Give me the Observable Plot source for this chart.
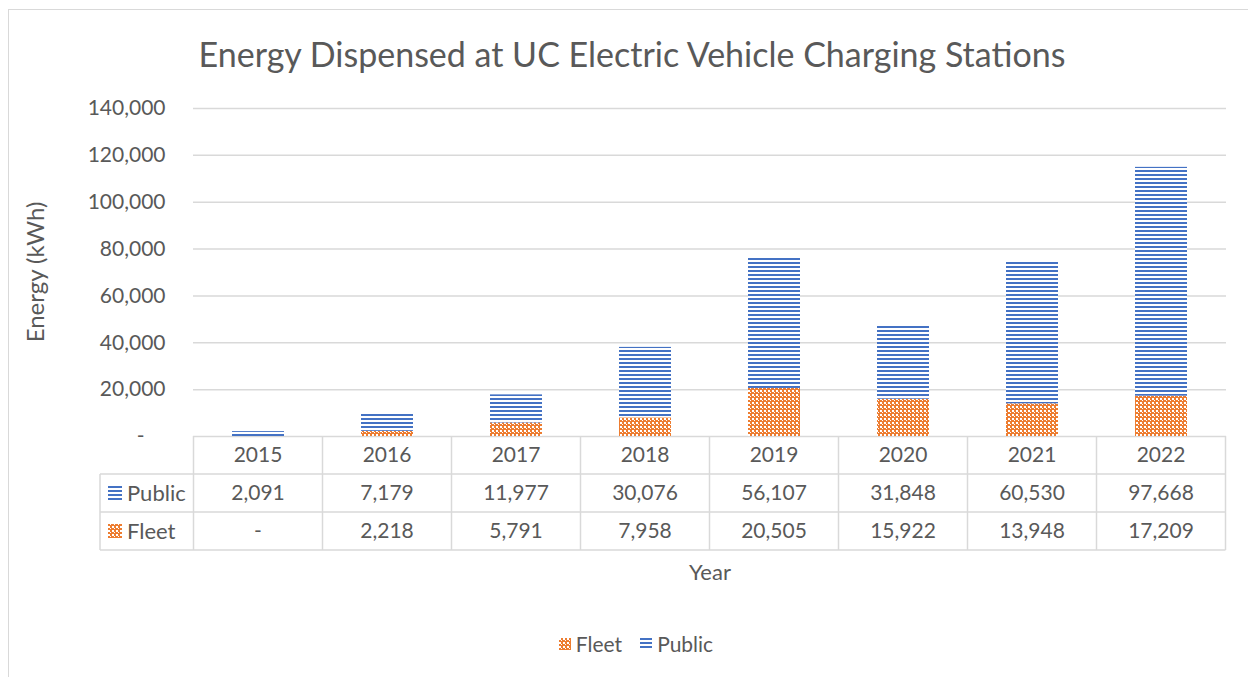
<!DOCTYPE html>
<html>
<head>
<meta charset="utf-8">
<script src="https://cdn.jsdelivr.net/npm/d3@7"></script>
<script src="https://cdn.jsdelivr.net/npm/@observablehq/plot@0.6"></script>
<style>
  html, body { margin: 0; padding: 0; background: #fff; }
  body { width: 1248px; height: 677px; position: relative; overflow: hidden; font-family: Lato, "Open Sans", sans-serif; color: #595959; }
  #frame { position: absolute; left: 8px; top: 9px; width: 1300px; height: 700px; border-left: 1.5px solid #d9d9d9; border-top: 1.5px solid #d9d9d9; }
  #title { position: absolute; left: 0; width: 1264px; top: 34px; line-height: 40px; text-align: center; font-size: 34px; }
  #chart { position: absolute; left: 0; top: 90px; }
  #xlabel { position: absolute; left: 0; width: 1420px; top: 558px; line-height: 28px; text-align: center; font-size: 22px; }
  #legend { position: absolute; left: 0; width: 1272px; top: 628px; line-height: 28px; text-align: center; font-size: 21px; }
  #legend span.item { display: inline-flex; align-items: center; margin: 0 9px; }
  #legend svg { margin-right: 5px; }
</style>
</head>
<body>
<div id="frame"></div>
<div id="title">Energy Dispensed at UC Electric Vehicle Charging Stations</div>
<div id="chart"></div>
<div id="xlabel">Year</div>
<div id="legend"></div>
<script>
const years = ["2015", "2016", "2017", "2018", "2019", "2020", "2021", "2022"];
const publicKWh = [2091, 7179, 11977, 30076, 56107, 31848, 60530, 97668];
const fleetKWh = [0, 2218, 5791, 7958, 20505, 15922, 13948, 17209];
const yTicks = [0, 20000, 40000, 60000, 80000, 100000, 120000, 140000];
const seriesNames = ["Fleet", "Public"];
const seriesColors = ["#ED7D31", "#4472C4"];

const rows = years.map((year, i) => ({year, fleet: fleetKWh[i], public: publicKWh[i]}));
const fmt = d3.format(",");
const fmtVal = v => v === 0 ? "-" : fmt(v);

const plot = Plot.plot({
  width: 1248,
  height: 466,
  marginTop: 18,
  marginBottom: 120,
  marginLeft: 193,
  marginRight: 22,
  style: {fontFamily: "Lato, 'Open Sans', sans-serif", fontSize: "21px", color: "#595959", background: "transparent", overflow: "visible"},
  x: {type: "band", domain: years, paddingInner: 0.6, paddingOuter: 0.3, axis: null},
  y: {domain: [0, 140000], axis: null},
  marks: [
    Plot.gridY(yTicks, {stroke: "#d9d9d9", strokeOpacity: 1, strokeWidth: 1.5}),
    Plot.axisY(yTicks, {tickSize: 0, tickPadding: 28, fill: "#595959", label: null,
      tickFormat: d => d === 0 ? "-\u2002\u2002" : fmt(d)}),
    Plot.barY(rows, {x: "year", y1: 0, y2: "fleet", fill: "url(#fleetPat)"}),
    Plot.barY(rows, {x: "year", y1: "fleet", y2: d => d.fleet + d.public, fill: "url(#publicPat)"})
  ]
});

const svg = d3.select(plot);
const defs = svg.insert("defs", ":first-child");
// Public: horizontal lines
const pp = defs.append("pattern").attr("id", "publicPat").attr("patternUnits", "userSpaceOnUse")
  .attr("width", 8).attr("height", 4);
pp.append("rect").attr("width", 8).attr("height", 4).attr("fill", "#fff");
pp.append("rect").attr("width", 8).attr("height", 2).attr("fill", seriesColors[1]);
// Fleet: small checker
const fp = defs.append("pattern").attr("id", "fleetPat").attr("patternUnits", "userSpaceOnUse")
  .attr("width", 4).attr("height", 4);
fp.append("rect").attr("width", 4).attr("height", 4).attr("fill", seriesColors[0]);
fp.append("rect").attr("width", 2).attr("height", 2).attr("fill", "#fff");
fp.append("rect").attr("x", 2).attr("y", 2).attr("width", 1).attr("height", 1).attr("fill", "#fff");

// Data table drawn from the x scale
const xs = plot.scale("x");
const ysc = plot.scale("y");
const step = xs.step;
const colLeft = y => xs.apply(y) + xs.bandwidth / 2 - step / 2;
const colCenter = y => xs.apply(y) + xs.bandwidth / 2;
const top0 = ysc.apply(0);           // table header top
const rowH = 38;
const tableLeft = 100;
const right = colLeft(years[years.length - 1]) + step;
const g = svg.append("g").attr("class", "datatable");
const lineStyle = sel => sel.attr("stroke", "#d9d9d9").attr("stroke-width", 1.5);
for (let r = 1; r <= 3; r++) {
  g.append("line").attr("x1", tableLeft).attr("x2", right).attr("y1", top0 + r * rowH).attr("y2", top0 + r * rowH).call(lineStyle);
}
g.append("line").attr("x1", tableLeft).attr("x2", tableLeft).attr("y1", top0 + rowH).attr("y2", top0 + 3 * rowH).call(lineStyle);
[...years.map(colLeft), right].forEach(x => {
  g.append("line").attr("x1", x).attr("x2", x).attr("y1", top0).attr("y2", top0 + 3 * rowH).call(lineStyle);
});
const txt = (x, y, s, anchor) => g.append("text").attr("x", x).attr("y", y).attr("dy", "0.35em")
  .attr("text-anchor", anchor || "middle").attr("fill", "#595959").attr("font-size", 21).text(s);
years.forEach((y, i) => {
  txt(colCenter(y), top0 + rowH * 0.5, y);
  txt(colCenter(y), top0 + rowH * 1.5, fmtVal(publicKWh[i]));
  txt(colCenter(y), top0 + rowH * 2.5, fmtVal(fleetKWh[i]));
});
// row headers with swatches
const rowSeries = [["Public", "url(#publicPat)"], ["Fleet", "url(#fleetPat)"]];
rowSeries.forEach(([name, fill], r) => {
  const cy = top0 + rowH * (1.5 + r);
  g.append("rect").attr("x", tableLeft + 8).attr("y", cy - 7).attr("width", 14).attr("height", 14).attr("fill", fill);
  txt(tableLeft + 27, cy, name, "start").attr("font-size", 22);
});
// y axis title
svg.append("text").attr("transform", `translate(36,${(ysc.apply(0) + ysc.apply(140000)) / 2}) rotate(-90)`)
  .attr("text-anchor", "middle").attr("dy", "0.35em").attr("fill", "#595959").attr("font-size", 24).text("Energy (kWh)");

document.getElementById("chart").appendChild(plot);

// Legend
const legend = d3.select("#legend");
seriesNames.forEach((name, i) => {
  const item = legend.append("span").attr("class", "item");
  const s = item.append("svg").attr("width", 12).attr("height", 12);
  s.append("rect").attr("width", 12).attr("height", 12).attr("fill", i === 0 ? "url(#fleetPat)" : "url(#publicPat)");
  item.append("span").text(name);
});
</script>
</body>
</html>
